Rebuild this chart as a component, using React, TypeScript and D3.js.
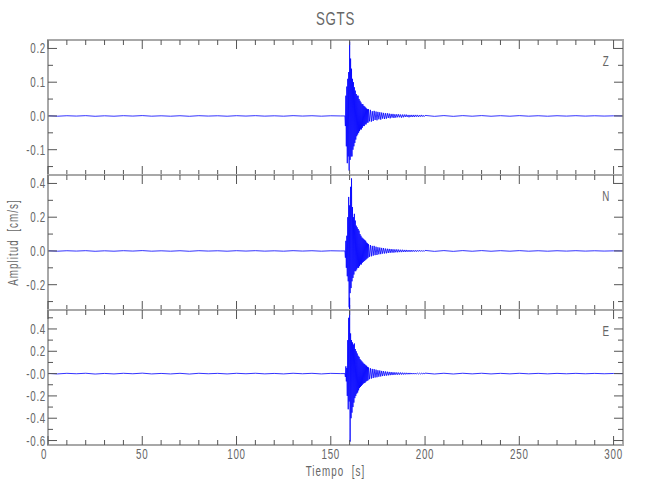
import React from "react";
import * as d3 from "d3";

// ---- Data ----
const title = "SGTS";
const channels = ["Z", "N", "E"];
const xTickLabels = [0, 50, 100, 150, 200, 250, 300];
const xDomain = [0, 305];

// event window: samples every 0.25 s starting 157.5 s
const eventStart = 157.5;
const eventStep = 0.25;
// coda: samples every 0.5 s starting 170 s
const codaStart = 170;
const codaStep = 0.5;
// background noise: samples every 5 s, pre from 0 s, post from 200 s
const noiseStep = 5;
const preStart = 0;
const postStart = 200;

const zEvent = [0, -0.03, 0.06, -0.09, 0.087, -0.14, 0.11, -0.12, 0.13, -0.162, 0.22, -0.13, 0.17, -0.12, 0.14, -0.12, 0.11, -0.1, 0.1, -0.09, 0.085, -0.08, 0.075, -0.07, 0.065, -0.06, 0.06, -0.055, 0.06, -0.05, 0.05, -0.045, 0.045, -0.04, 0.04, -0.04, 0.035, -0.035, 0.035, -0.03, 0.03, -0.03, 0.028, -0.025, 0.025, -0.025, 0.022, -0.02, 0.02, -0.02];
const zCoda = [0.02, -0.016, 0.018, -0.017, 0.014, -0.015, 0.015, -0.012, 0.013, -0.013, 0.012, -0.01, 0.011, -0.011, 0.01, -0.008, 0.009, -0.009, 0.008, -0.008, 0.008, -0.006, 0.007, -0.007, 0.006, -0.005, 0.006, -0.006, 0.005, -0.005, 0.005, -0.004, 0.005, -0.004, 0.004, -0.005, 0.004, -0.004, 0.004, -0.003, 0.004, -0.003, 0.003, -0.004, 0.003, -0.003, 0.003, -0.003, 0.003, -0.003, 0.003, -0.002, 0.003, -0.003, 0.002, -0.002, 0.003, -0.002, 0.002, -0.002];
const zPre = [0.0005, -0.0008, 0.0006, -0.0004, 0.0008, -0.001, 0.0004, -0.0008, 0.0007, -0.0004, 0.001, -0.0007, 0.0004, -0.0008, 0.0006, -0.001, 0.0007, -0.0004, 0.0005, -0.0008, 0.0007, -0.0004, 0.0008, -0.0006, 0.0004, -0.0007, 0.0008, -0.0004, 0.0006, -0.0007, 0.0005, 0];
const zPost = [0.0015, -0.0012, 0.001, -0.0012, 0.0009, -0.0008, 0.001, -0.0009, 0.0007, -0.0008, 0.0009, -0.0007, 0.0006, -0.0008, 0.0006, -0.0005, 0.0007, -0.0005, 0.0005, -0.0004, 0.0003];

const nEvent = [0, -0.04, 0.06, -0.1, 0.09, -0.15, 0.2, -0.18, 0.32, -0.334, 0.27, -0.25, 0.38, -0.22, 0.43, -0.18, 0.26, -0.16, 0.2, -0.14, 0.22, -0.12, 0.18, -0.12, 0.15, -0.11, 0.14, -0.1, 0.13, -0.1, 0.12, -0.09, 0.1, -0.08, 0.09, -0.08, 0.08, -0.07, 0.075, -0.065, 0.07, -0.06, 0.065, -0.055, 0.06, -0.05, 0.05, -0.045, 0.045, -0.04];
const nCoda = [0.04, -0.035, 0.035, -0.032, 0.03, -0.028, 0.03, -0.025, 0.025, -0.024, 0.022, -0.02, 0.02, -0.019, 0.018, -0.016, 0.017, -0.015, 0.014, -0.014, 0.013, -0.012, 0.012, -0.011, 0.011, -0.01, 0.01, -0.01, 0.009, -0.008, 0.009, -0.008, 0.008, -0.007, 0.007, -0.007, 0.007, -0.006, 0.006, -0.006, 0.006, -0.005, 0.005, -0.005, 0.005, -0.005, 0.005, -0.004, 0.004, -0.004, 0.004, -0.004, 0.004, -0.003, 0.004, -0.003, 0.003, -0.003, 0.003, -0.003];
const nPre = [0.001, -0.0015, 0.0012, -0.0008, 0.0015, -0.002, 0.0008, -0.0015, 0.0014, -0.0008, 0.002, -0.0014, 0.0008, -0.0015, 0.0012, -0.002, 0.0014, -0.0008, 0.001, -0.0015, 0.0014, -0.0008, 0.0015, -0.0012, 0.0008, -0.0014, 0.0015, -0.0008, 0.0012, -0.0014, 0.001, 0];
const nPost = [0.003, -0.0025, 0.002, -0.0025, 0.002, -0.0018, 0.002, -0.0018, 0.0015, -0.0015, 0.0018, -0.0015, 0.0012, -0.0015, 0.0012, -0.001, 0.0014, -0.001, 0.001, -0.0008, 0.0005];

const eEvent = [0, -0.03, 0.065, -0.07, 0.05, -0.2, 0.3, -0.32, 0.5, -0.25, 0.68, -0.61, 0.36, -0.4, 0.3, -0.35, 0.28, -0.3, 0.26, -0.26, 0.27, -0.22, 0.22, -0.2, 0.2, -0.18, 0.18, -0.17, 0.16, -0.15, 0.15, -0.13, 0.13, -0.12, 0.12, -0.11, 0.11, -0.1, 0.1, -0.09, 0.09, -0.085, 0.085, -0.08, 0.075, -0.07, 0.07, -0.065, 0.06, -0.06];
const eCoda = [0.055, -0.05, 0.048, -0.045, 0.042, -0.04, 0.04, -0.035, 0.035, -0.033, 0.03, -0.028, 0.028, -0.026, 0.024, -0.022, 0.022, -0.02, 0.019, -0.018, 0.017, -0.016, 0.015, -0.014, 0.014, -0.013, 0.012, -0.012, 0.011, -0.01, 0.01, -0.01, 0.009, -0.009, 0.009, -0.008, 0.008, -0.008, 0.007, -0.007, 0.007, -0.006, 0.006, -0.006, 0.006, -0.005, 0.005, -0.005, 0.005, -0.005, 0.005, -0.004, 0.004, -0.004, 0.004, -0.004, 0.004, -0.003, 0.004, -0.003];
const ePre = [0.002, -0.003, 0.0025, -0.0015, 0.003, -0.004, 0.0015, -0.003, 0.0028, -0.0015, 0.004, -0.0028, 0.0015, -0.003, 0.0025, -0.004, 0.0028, -0.0015, 0.002, -0.003, 0.0028, -0.0015, 0.003, -0.0025, 0.0015, -0.0028, 0.003, -0.0015, 0.0025, -0.0028, 0.002, 0];
const ePost = [0.004, -0.0035, 0.003, -0.0035, 0.003, -0.0025, 0.003, -0.0028, 0.0022, -0.0025, 0.0028, -0.0022, 0.002, -0.0025, 0.002, -0.0018, 0.0022, -0.0018, 0.0018, -0.0015, 0.001];

const yDomains = [
  [-0.175, 0.225],
  [-0.35, 0.45],
  [-0.64, 0.57],
];
const yMajorTicks = [
  [-0.1, 0.0, 0.1, 0.2],
  [-0.2, 0.0, 0.2, 0.4],
  [-0.6, -0.4, -0.2, 0.0, 0.2, 0.4],
];
const yMinorTicks = [
  [-0.15, -0.05, 0.05, 0.15],
  [-0.3, -0.1, 0.1, 0.3],
  [-0.5, -0.3, -0.1, 0.1, 0.3, 0.5],
];
const yTickLabels = [
  ["-0.1", "0.0", "0.1", "0.2"],
  ["-0.2", "0.0", "0.2", "0.4"],
  ["-0.6", "-0.4", "-0.2", "-0.0", "0.2", "0.4"],
];

const traces = [
  { pre: zPre, event: zEvent, coda: zCoda, post: zPost },
  { pre: nPre, event: nEvent, coda: nCoda, post: nPost },
  { pre: ePre, event: eEvent, coda: eCoda, post: ePost },
];

// ---- Layout ----
const W = 650;
const H = 500;
const left = 48;
const right = 623;
const panelTops = [40, 175, 310];
const panelH = 135;
const font = "'Liberation Sans', Arial, sans-serif";
const textColor = "#666";
const frameColor = "#a8a8a8";
const tickColor = "#555";
const narrow = 0.7;

function buildPoints(t: typeof traces[number]): [number, number][] {
  const pts: [number, number][] = [];
  t.pre.forEach((v, i) => pts.push([preStart + i * noiseStep, v]));
  t.event.forEach((v, i) => pts.push([eventStart + i * eventStep, v]));
  t.coda.forEach((v, i) => pts.push([codaStart + i * codaStep, v]));
  t.post.forEach((v, i) => pts.push([postStart + i * noiseStep, v]));
  pts.push([xDomain[1], 0]);
  return pts;
}

function T(props: {
  x: number;
  y: number;
  anchor?: string;
  size?: number;
  rotate?: number;
  ls?: number;
  children: React.ReactNode;
}) {
  const { x, y, anchor = "middle", size = 14, rotate = 0, ls = 0.5, children } = props;
  return (
    <text
      transform={`translate(${x},${y}) rotate(${rotate}) scale(${narrow},1)`}
      textAnchor={anchor}
      fontFamily={font}
      fontSize={size}
      fill={textColor}
      letterSpacing={ls}
      style={{ whiteSpace: "pre" }}
    >
      {children}
    </text>
  );
}

export default function App() {
  const x = d3.scaleLinear().domain(xDomain).range([left, right]);
  const xMajor = d3.range(0, 301, 50);
  const xMinor = d3.range(0, 306, 10).filter((v) => v % 50 !== 0);

  return (
    <svg width={W} height={H} style={{ display: "block", position: "absolute", left: 0, top: 0 }}>
      <rect width={W} height={H} fill="#fff" />
      <T x={(left + right) / 2} y={25} size={19} ls={1}>
        {title}
      </T>
      {panelTops.map((top, pi) => {
        const bottom = top + panelH;
        const y = d3.scaleLinear().domain(yDomains[pi]).range([bottom, top]);
        const line = d3
          .line<[number, number]>()
          .x((d) => x(d[0]))
          .y((d) => y(d[1]));
        const pts = buildPoints(traces[pi]);
        return (
          <g key={pi}>
            <path d={line(pts) || ""} fill="none" stroke="#0000ff" strokeWidth={0.8} />
            <rect x={left} y={top} width={right - left} height={panelH} fill="none" stroke={frameColor} strokeWidth={2} />
            {xMajor.map((v) => (
              <g key={"xM" + v}>
                <line x1={x(v)} x2={x(v)} y1={top} y2={top + 9} stroke={tickColor} strokeWidth={1} />
                <line x1={x(v)} x2={x(v)} y1={bottom} y2={bottom - 9} stroke={tickColor} strokeWidth={1} />
              </g>
            ))}
            {xMinor.map((v) => (
              <g key={"xm" + v}>
                <line x1={x(v)} x2={x(v)} y1={top} y2={top + 5} stroke={tickColor} strokeWidth={1} />
                <line x1={x(v)} x2={x(v)} y1={bottom} y2={bottom - 5} stroke={tickColor} strokeWidth={1} />
              </g>
            ))}
            {yMajorTicks[pi].map((v, i) => (
              <g key={"yM" + v}>
                <line x1={left} x2={left + 9} y1={y(v)} y2={y(v)} stroke={tickColor} strokeWidth={1} />
                <line x1={right} x2={right - 9} y1={y(v)} y2={y(v)} stroke={tickColor} strokeWidth={1} />
                <T x={left - 2} y={y(v) + 5} anchor="end" size={14} ls={1}>
                  {yTickLabels[pi][i]}
                </T>
              </g>
            ))}
            {yMinorTicks[pi].map((v) => (
              <g key={"ym" + v}>
                <line x1={left} x2={left + 5} y1={y(v)} y2={y(v)} stroke={tickColor} strokeWidth={1} />
                <line x1={right} x2={right - 5} y1={y(v)} y2={y(v)} stroke={tickColor} strokeWidth={1} />
              </g>
            ))}
            <T x={606} y={top + 26} size={14}>
              {channels[pi]}
            </T>
          </g>
        );
      })}
      {xTickLabels.map((v) => (
        <T key={"xl" + v} x={x(v) - (v === 0 ? 4 : 0)} y={panelTops[2] + panelH + 14} size={14} ls={1}>
          {String(v)}
        </T>
      ))}
      <T x={(left + right) / 2} y={476} size={14} ls={1.5}>
        {"Tiempo  [s]"}
      </T>
      <T x={18} y={(panelTops[0] + panelTops[2] + panelH) / 2} size={14} rotate={-90} ls={1.5}>
        {"Amplitud  [cm/s]"}
      </T>
    </svg>
  );
}
